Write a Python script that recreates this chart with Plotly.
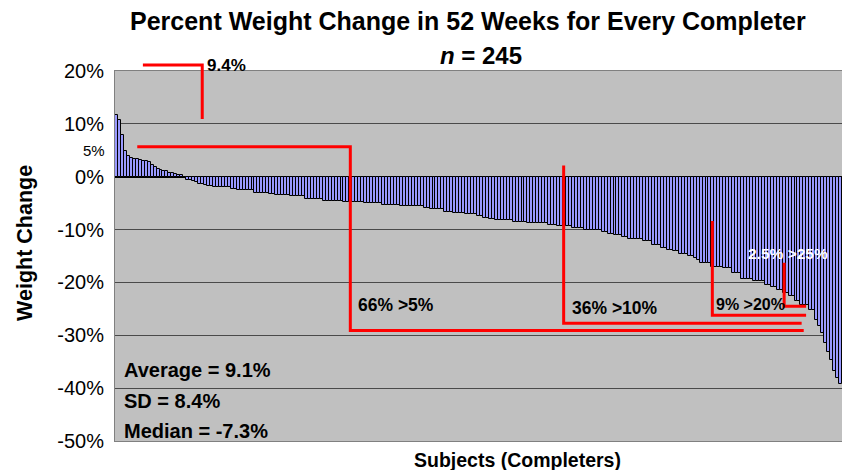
import plotly.graph_objects as go

# ---------------- data ----------------
weight_change = [
    11.6, 10.8, 7.9, 4.8, 4.0, 3.6, 3.3, 3.3, 3.2, 3.0,
    2.9, 2.8, 2.3, 1.9, 1.4, 1.2, 1.1, 1.0, 0.7, 0.7,
    0.6, 0.4, 0.4,
    -0.1, -0.6, -0.6, -0.9, -1.0, -1.3, -1.3, -1.6, -1.8, -1.8,
    -2.0, -2.0, -2.0, -2.0, -2.0, -2.0, -2.3, -2.3,
    -2.6, -2.6, -2.6, -2.6, -2.6, -2.6,
    -3.0, -3.0, -3.0, -3.0, -3.0,
    -3.2, -3.2,
    -3.5, -3.5, -3.5, -3.5, -3.5,
    -3.7, -3.7, -3.7, -3.7, -3.7,
    -4.2, -4.2, -4.2,
    -4.3, -4.3, -4.3,
    -4.5, -4.5, -4.5, -4.5, -4.5, -4.5, -4.5,
    -4.8, -4.8, -4.8, -4.8, -4.8, -4.8, -4.8,
    -5.0, -5.0, -5.0, -5.0, -5.0, -5.0,
    -5.3, -5.3, -5.3, -5.3, -5.3, -5.3,
    -5.6, -5.6, -5.6, -5.6, -5.6, -5.6, -5.6, -5.6,
    -5.9, -5.9,
    -6.1, -6.1, -6.1, -6.1, -6.1,
    -6.6, -6.6, -6.6,
    -6.9, -6.9, -6.9, -6.9,
    -7.1, -7.1, -7.1, -7.1,
    -7.4, -7.4,
    -7.8, -7.8,
    -8.0, -8.0,
    -8.2, -8.2, -8.2, -8.2, -8.2, -8.2,
    -8.5, -8.5, -8.5, -8.5, -8.5,
    -8.8, -8.8, -8.8, -8.8, -8.8, -8.8, -8.8,
    -9.1, -9.1, -9.1,
    -9.4, -9.4, -9.4, -9.4, -9.4,
    -9.7, -9.7, -9.7, -9.7,
    -10.1, -10.1, -10.1, -10.1, -10.1, -10.1,
    -10.5, -10.5,
    -10.8, -10.8,
    -11.1, -11.1, -11.1,
    -11.4, -11.4,
    -11.7, -11.7, -11.7, -11.7, -11.7,
    -12.2, -12.2, -12.2,
    -12.9, -12.9, -12.9,
    -13.5, -13.5,
    -13.8, -13.8,
    -14.1, -14.1,
    -14.6, -14.6, -14.6,
    -15.0, -15.0,
    -15.4, -15.8,
    -16.4, -16.4, -16.4, -16.4,
    -17.0, -17.0, -17.0, -17.0,
    -17.3, -17.3, -17.3,
    -18.2, -18.2, -18.2,
    -19.4, -19.4, -19.4, -19.4,
    -19.8, -19.8, -19.8, -19.8,
    -20.4, -20.4,
    -20.9, -20.9,
    -21.5, -21.5,
    -22.0, -22.0,
    -22.6, -22.6,
    -23.6, -23.6,
    -24.2, -24.2, -24.2,
    -25.2, -25.2,
    -27.1, -28.3, -29.6, -31.5, -33.1, -34.6, -36.8, -38.0, -39.3,
]
subjects = list(range(len(weight_change)))

y_tick_values = [20, 10, 0, -10, -20, -30, -40, -50]
y_tick_labels = ["20%", "10%", "0%", "-10%", "-20%", "-30%", "-40%", "-50%"]

title_text = "Percent Weight Change in 52 Weeks for Every Completer"
subtitle_text = "<i>n</i> = 245"
stats_labels = ["Average = 9.1%", "SD = 8.4%", "Median = -7.3%"]

FONT = "Liberation Sans, Arial, sans-serif"
RED = "#FF0000"

fig = go.Figure()
fig.add_trace(go.Bar(
    x=subjects, y=weight_change,
    marker=dict(color="#9999FF", line=dict(color="black", width=1.0)),
    showlegend=False, hoverinfo="y",
))

# red bracket lines (data coordinates)
def bracket(path, yref="y"):
    fig.add_shape(type="path", path=path, xref="x", yref=yref,
                  line=dict(color=RED, width=3), layer="above")

bracket("M 8.9,1.016 L 28.9,1.016 L 28.9,0.870", yref="paper")
bracket("M 7.0,5.68 L 78.8,5.68 L 78.8,-29.1 L 231.6,-29.1")
bracket("M 150.7,2.1 L 150.7,-27.7 L 230.9,-27.7")
bracket("M 200.8,-8.4 L 200.8,-26.2 L 232.4,-26.2")
bracket("M 225.0,-16.3 L 225.0,-24.5 L 232.4,-24.5")

def note(text, x, y, size, color="black", xref="x", yref="y", xanchor="left"):
    fig.add_annotation(text="<b>%s</b>" % text, x=x, y=y, xref=xref, yref=yref,
                       xanchor=xanchor, yanchor="middle", showarrow=False,
                       font=dict(family=FONT, size=size, color=color))

note("9.4%", 0.124, 1.016, 17, xref="paper", yref="paper")
note("66% &gt;5%", 80.6, -24.2, 17.5)
note("36% &gt;10%", 152.9, -24.8, 17.5)
note("9% &gt;20%", 201.4, -24.2, 16)
note("2.5% &gt;25%", 212.2, -14.6, 15.5, color="white")
for lbl, yv in zip(stats_labels, [-36.5, -42.5, -48.2]):
    note(lbl, 2.0, yv, 20)

# titles
note(title_text, 0.486, 1.135, 25, xref="paper", yref="paper", xanchor="center")
note(subtitle_text, 0.504, 1.043, 24, xref="paper", yref="paper", xanchor="center")
fig.add_annotation(text="<b>Weight Change</b>", x=-0.124, y=0.535, xref="paper", yref="paper",
                   textangle=-90, showarrow=False, xanchor="center", yanchor="middle",
                   font=dict(family=FONT, size=21.5, color="black"))
note("Subjects (Completers)", 0.553, -0.051, 19.5, xref="paper", yref="paper", xanchor="center")
# extra 5% tick label
fig.add_annotation(text="5%", x=-0.011, y=5, xref="paper", yref="y", xanchor="right",
                   yanchor="middle", showarrow=False,
                   font=dict(family=FONT, size=15, color="black"))

fig.update_layout(
    width=846, height=470,
    margin=dict(l=115, r=4, t=71, b=29),
    paper_bgcolor="white", plot_bgcolor="#C0C0C0",
    bargap=0,
    font=dict(family=FONT, color="black"),
    xaxis=dict(range=[-0.5, len(weight_change) - 0.5], showticklabels=False,
               showgrid=False, zeroline=False, ticks="", automargin=False,
               showline=True, linecolor="#808080", linewidth=1, mirror=True),
    yaxis=dict(range=[-50, 20], tickvals=y_tick_values, ticktext=y_tick_labels,
               tickfont=dict(family=FONT, size=20, color="black"),
               showgrid=True, gridcolor="#4a4a4a", gridwidth=1,
               zeroline=True, zerolinecolor="black", zerolinewidth=1.5,
               showline=True, linecolor="#808080", linewidth=1,
               ticks="", ticklabelstandoff=6, automargin=False),
    yaxis2=dict(overlaying="y", side="right", range=[-50, 20], tickvals=y_tick_values,
                showticklabels=False, ticks="outside", ticklen=4, tickcolor="#333333",
                showgrid=False, zeroline=False, showline=True, linecolor="#333333",
                linewidth=1.5, automargin=False),
)

fig.write_html("out.html",
               config={"displayModeBar": False},
               post_script="document.body.style.margin='0px';"
                           "document.body.style.overflow='hidden';")
